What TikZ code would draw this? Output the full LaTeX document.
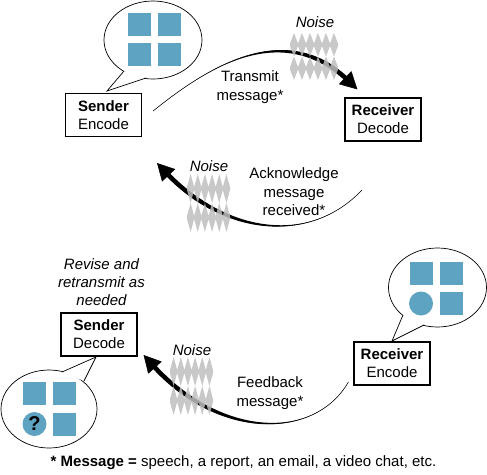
\documentclass[tikz,border=0pt]{standalone}
\usepackage{fontspec}
\setmainfont{Liberation Sans}
\usetikzlibrary{calc,arrows.meta}
\definecolor{tilecol}{RGB}{94,164,194}
\definecolor{noisecol}{RGB}{190,190,190}
\tikzset{
  box/.style={draw,line width=1.2pt,minimum width=76pt,minimum height=43pt,align=center,inner sep=2pt,font=\fontsize{15}{18}\selectfont},
  txt/.style={align=center,inner sep=0pt,font=\fontsize{15}{18.5}\selectfont},
  itxt/.style={align=center,inner sep=0pt,font=\fontsize{15}{18}\selectfont\itshape},
  tile/.style={fill=tilecol,minimum size=23pt,inner sep=0pt},
  dot/.style={circle,fill=tilecol,minimum size=24pt,inner sep=0pt,font=\fontsize{20}{20}\selectfont\bfseries},
  bubble/.style={draw,fill=white,line width=0.7pt},
  noise/.style={fill=noisecol,fill opacity=0.85}
}
\newcommand{\taperarrow}[4]{%
  \coordinate (tp-b) at ($(#4)!13pt!(#3)$);
  \coordinate (tp-u) at ($(tp-b)!2.3pt!90:(#4)$);
  \coordinate (tp-l) at ($(tp-b)!2.3pt!-90:(#4)$);
  \fill (#1) .. controls (#2) and ($(#3)+(tp-u)-(tp-b)$) .. (tp-u)
    -- (tp-l) .. controls ($(#3)+(tp-l)-(tp-b)$) and (#2) .. (#1) -- cycle;
  \draw[line width=0.5pt,-{Triangle[length=17pt,width=18pt]}] (#1) .. controls (#2) and (#3) .. (#4);
}
\newcommand{\noisepatch}[4]{%
  \foreach \r in {0,1}{
    \fill[noise] ({#1},{#2+\r*#4/2+0.45*#4/2})
      \foreach \i in {1,...,6}{ -- ++({#3/12},{-0.45*#4/2}) -- ++({#3/12},{0.45*#4/2}) }
      -- ++(0,{0.1*#4/2})
      \foreach \i in {1,...,6}{ -- ++({-#3/12},{0.45*#4/2}) -- ++({-#3/12},{-0.45*#4/2}) }
      -- cycle;
  }
}
\begin{document}
\begin{tikzpicture}[x=1pt,y=-1pt]
\useasboundingbox (0,0) rectangle (487,474);

\node[box] (sndenc) at (103.5,115) {\textbf{Sender}\\Encode};
\node[box] (rcvdec) at (383,119.5) {\textbf{Receiver}\\Decode};
\node[box] (snddec) at (99,334.5) {\textbf{Sender}\\Decode};
\node[box] (rcvenc) at (392,363.5) {\textbf{Receiver}\\Encode};

\draw[bubble] (153,40) ellipse [x radius=49, y radius=39];
\fill[white] (124,71) -- (107,91) -- (146,78) -- cycle;
\draw[line width=0.7pt] (124,71) -- (107,91) -- (146,78);
\node[tile] (ta1) at (139.5,24.5) {};
\node[tile] (ta2) at (169.5,24.5) {};
\node[tile] (ta3) at (139.5,54.5) {};
\node[tile] (ta4) at (169.5,54.5) {};

\draw[bubble] (49,409) ellipse [x radius=48, y radius=39];
\fill[white] (62,372) -- (96,357) -- (84,381) -- cycle;
\draw[line width=0.7pt] (62,372) -- (96,357) -- (84,381);
\node[tile] (tb1) at (34.5,393.5) {};
\node[tile] (tb2) at (64.5,393.5) {};
\node[dot] (tb3) at (34.5,424) {?};
\node[tile] (tb4) at (64.5,424) {};

\draw[bubble] (437.5,287.5) ellipse [x radius=49, y radius=39.5];
\fill[white] (403,315) -- (392,341) -- (424,325) -- cycle;
\draw[line width=0.7pt] (403,315) -- (392,341) -- (424,325);
\node[tile] (tc1) at (421,273) {};
\node[tile] (tc2) at (451,273) {};
\node[dot] (tc3) at (421,303.5) {};
\node[tile] (tc4) at (451,303.5) {};

\coordinate (tx-a) at ($(sndenc.east)+(11,-4)$);
\coordinate (tx-b) at ($(rcvdec.north west)+(13,-8)$);
\coordinate (ack-a) at (362,190);
\coordinate (ack-b) at (157,163);
\coordinate (fb-a) at ($(rcvenc.west)+(-5,18.5)$);
\coordinate (fb-b) at ($(snddec.east)+(6,20.5)$);

\taperarrow{tx-a}{210,65}{285,20}{tx-b}
\taperarrow{ack-a}{310,245}{225,235}{ack-b}
\taperarrow{fb-a}{315,440}{220,440}{fb-b}

\noisepatch{290}{33}{48}{47}
\noisepatch{187}{174}{43}{58}
\noisepatch{170}{357}{43}{58}

\node[itxt] (noise1) at (315,22.5) {Noise};
\node[itxt] (noise2) at (209,166) {Noise};
\node[itxt] (noise3) at (192,350.5) {Noise};
\node[txt] (txmsg) at (250,87) {Transmit\\message*};
\node[txt] (ackmsg) at (294,192) {Acknowledge\\message\\received*};
\node[txt] (fbmsg) at (270,393) {Feedback\\message*};
\node[itxt] (revise) at (101.5,282) {Revise and\\retransmit as\\needed};
\node[txt] (foot) at (243.5,463) {\textbf{* Message =} speech, a report, an email, a video chat, etc.};
\end{tikzpicture}
\end{document}
